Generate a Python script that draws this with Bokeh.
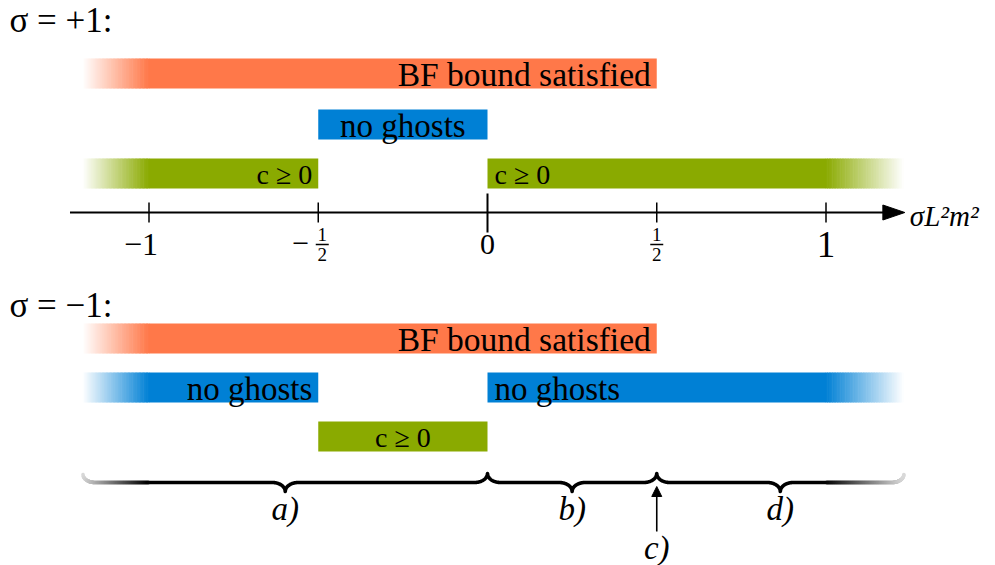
import numpy as np
from bokeh.plotting import figure
from bokeh.models import Range1d, Arrow, NormalHead
from bokeh.core.properties import value
from bokeh.embed import file_html
from bokeh.resources import INLINE

# ---------------- data ----------------
# sigma = +1 : condition bands (None = continues past the drawn range)
plus_labels = ["BF bound satisfied", "no ghosts", "c ≥ 0", "c ≥ 0"]
plus_start = [None, -0.5, None, 0.0]
plus_end = [0.5, 0.0, -0.5, None]
plus_row = [0, 1, 2, 2]

# sigma = -1 : condition bands
minus_labels = ["BF bound satisfied", "no ghosts", "no ghosts", "c ≥ 0"]
minus_start = [None, None, 0.0, -0.5]
minus_end = [0.5, -0.5, None, 0.0]
minus_row = [0, 1, 1, 2]

panel_titles = ["σ = +1:", "σ = −1:"]

tick_values = [-1.0, -0.5, 0.0, 0.5, 1.0]
tick_labels = ["−1", "−1/2", "0", "1/2", "1"]
axis_label = "σL²m²"

# parameter regions marked by the brace
region_labels = ["a)", "b)", "c)", "d)"]
region_start = [None, 0.0, 0.5, 0.5]
region_end = [0.0, 0.5, 0.5, None]

# ---------------- layout / style ----------------
W, H = 995, 565
PX_PER_UNIT = 338.5
ORIGIN_PX = 487
X_LO, X_HI = -1.195, 1.23          # visible extent of open-ended bands
FADE_LO, FADE_HI = -1.0, 1.0        # where the fades reach full colour
ROW_COLORS = ["#FF7849", "#0080D5", "#8AAA00"]
ROW_FONT = ["33.5px", "33px", "28px"]
PLUS_ROW_Y = [73, 124, 173]
MINUS_ROW_Y = [338, 387, 436]
BAR_H = 30
AXIS_Y = 212
BRACE_Y = 482
FONT = value("Liberation Serif")


def px(n):
    """pixel length -> data length along x"""
    return n / PX_PER_UNIT


def mix(hex_color, t):
    """blend a colour with white; t=1 gives the colour itself"""
    h = hex_color.lstrip("#")
    rgb = [int(h[i:i + 2], 16) for i in (0, 2, 4)]
    out = [round(c * t + 255 * (1 - t)) for c in rgb]
    return "#%02x%02x%02x" % tuple(out)


p = figure(width=W, height=H,
           x_range=Range1d(-ORIGIN_PX / PX_PER_UNIT, (W - ORIGIN_PX) / PX_PER_UNIT),
           y_range=Range1d(H, 0),
           output_backend="svg", toolbar_location=None,
           x_axis_type=None, y_axis_type=None, min_border=0)
p.outline_line_color = None
p.background_fill_color = "white"
p.border_fill_color = "white"


def fade_slices(a, b, color, rising, n=48):
    lefts, rights, cols = [], [], []
    edges = np.linspace(a, b, n + 1)
    for i in range(n):
        t = (i + 0.5) / n
        t = t if rising else 1 - t
        lefts.append(edges[i] - px(0.3))
        rights.append(edges[i + 1] + px(0.3))
        cols.append(mix(color, t))
    return lefts, rights, cols


def draw_panel(labels, starts, ends, rows, row_y):
    for lab, s, e, r in zip(labels, starts, ends, rows):
        y = row_y[r]
        col = ROW_COLORS[r]
        solid_lo = FADE_LO if s is None else s
        solid_hi = FADE_HI if e is None else e
        L, R, C = [solid_lo], [solid_hi], [col]
        if s is None:
            l2, r2, c2 = fade_slices(X_LO, FADE_LO, col, True)
            L += l2; R += r2; C += c2
        if e is None:
            l2, r2, c2 = fade_slices(FADE_HI, X_HI, col, False)
            L += l2; R += r2; C += c2
        p.quad(left=L, right=R, top=[y - BAR_H / 2] * len(L),
               bottom=[y + BAR_H / 2] * len(L), fill_color=C, line_color=None)
        # label placement follows which side of the band is open
        if s is None and e is not None:
            x, align, off = e, "right", -6
        elif e is None and s is not None:
            x, align, off = s, "left", 7
        else:
            x, align, off = (s + e) / 2, "center", 0
        p.text(x=[x], y=[y + 1], text=[lab], text_align=align, text_baseline="middle",
               x_offset=off, text_font=FONT, text_font_size=ROW_FONT[r], text_color="black")


draw_panel(plus_labels, plus_start, plus_end, plus_row, PLUS_ROW_Y)
draw_panel(minus_labels, minus_start, minus_end, minus_row, MINUS_ROW_Y)

# panel headings
for title, yy in zip(panel_titles, [20, 305]):
    p.text(x=[-ORIGIN_PX / PX_PER_UNIT], y=[yy], text=[title], x_offset=9,
           text_align="left", text_baseline="middle", text_font=FONT,
           text_font_size="35px", text_color="black")

# ---------------- number line ----------------
ax_lo = X_LO - px(13)
ax_tip = X_HI - px(-1)
head_len = px(22)
p.segment(x0=[ax_lo], y0=[AXIS_Y], x1=[ax_tip - head_len + px(2)], y1=[AXIS_Y],
          line_color="black", line_width=2.2)
p.patch(x=[ax_tip, ax_tip - head_len, ax_tip - head_len],
        y=[AXIS_Y, AXIS_Y - 7.5, AXIS_Y + 7.5], fill_color="black", line_color="black")
p.text(x=[ax_tip], y=[AXIS_Y + 3], text=[axis_label], x_offset=5, text_align="left",
       text_baseline="middle", text_font=FONT, text_font_style="italic",
       text_font_size="29px", text_color="black")

for v, lab in zip(tick_values, tick_labels):
    if v == 0:
        p.segment(x0=[v], y0=[193], x1=[v], y1=[232], line_color="black", line_width=2)
    else:
        p.segment(x0=[v], y0=[202], x1=[v], y1=[222], line_color="black", line_width=1.5)
    neg = lab.startswith("−")
    body = lab[1:] if neg else lab
    if "/" in body:
        num, den = body.split("/")
        cx = v + (px(4) if neg else 0)
        p.text(x=[cx, cx], y=[234, 254], text=[num, den], text_align="center",
               text_baseline="middle", text_font=FONT, text_font_size="19px",
               text_color="black")
        p.segment(x0=[cx - px(6.5)], y0=[244], x1=[cx + px(6.5)], y1=[244],
                  line_color="black", line_width=1.5)
        if neg:
            p.text(x=[v], y=[243], text=["−"], text_align="right", text_baseline="middle",
                   x_offset=-9, text_font=FONT, text_font_size="30px", text_color="black")
    else:
        size = "37px" if (v > 0) else ("30px" if v == 0 else "32px")
        if neg:
            p.text(x=[v], y=[244], text=[lab], text_align="right", text_baseline="middle",
                   x_offset=9, text_font=FONT, text_font_size=size, text_color="black")
        else:
            p.text(x=[v], y=[244], text=[lab], text_align="center", text_baseline="middle",
                   text_font=FONT, text_font_size=size, text_color="black")

# ---------------- brace of regions ----------------
intervals, points, label_pos = [], [], []
for lab, s, e in zip(region_labels, region_start, region_end):
    lo = X_LO if s is None else s
    hi = X_HI if e is None else e
    if lo == hi:
        points.append(lo)
        label_pos.append((lab, lo, 547))
    else:
        intervals.append((lo, hi))
        label_pos.append((lab, (lo + hi) / 2, 508))
down_cusps = [(a + b) / 2 for a, b in intervals]
up_cusps = sorted({b for a, b in intervals if X_LO < b < X_HI})

CUSP_W, CUSP_H = px(13), 9.0
END_W, END_H = px(12), 8.0


def quarter(t):
    return 1 - np.sqrt(np.clip(1 - t * t, 0, 1))


xs = np.arange(X_LO, X_HI, px(0.4))
xs = np.unique(np.concatenate([xs, [X_HI], down_cusps, up_cusps]))
ys = np.full_like(xs, float(BRACE_Y))
for c in down_cusps:
    m = np.abs(xs - c) < CUSP_W
    ys[m] += CUSP_H * quarter(1 - np.abs(xs[m] - c) / CUSP_W)
for c in up_cusps:
    m = np.abs(xs - c) < CUSP_W
    ys[m] -= CUSP_H * quarter(1 - np.abs(xs[m] - c) / CUSP_W)
m = xs - X_LO < END_W
ys[m] -= END_H * quarter(1 - (xs[m] - X_LO) / END_W)
m = X_HI - xs < END_W
ys[m] -= END_H * quarter(1 - (X_HI - xs[m]) / END_W)

solid = (xs >= FADE_LO) & (xs <= FADE_HI)
p.line(x=xs[solid], y=ys[solid], line_color="black", line_width=3.6,
       line_join="round", line_cap="round")
seg_x0, seg_y0, seg_x1, seg_y1, seg_c = [], [], [], [], []
for i in range(len(xs) - 1):
    xm = 0.5 * (xs[i] + xs[i + 1])
    if FADE_LO <= xm <= FADE_HI:
        continue
    if xm < FADE_LO:
        t = (xm - X_LO) / (FADE_LO - X_LO)
    else:
        t = (X_HI - xm) / (X_HI - FADE_HI)
    t = 0.15 + 0.85 * t
    seg_x0.append(xs[i]); seg_y0.append(ys[i]); seg_x1.append(xs[i + 1]); seg_y1.append(ys[i + 1])
    seg_c.append(mix("#000000", t))
p.segment(x0=seg_x0, y0=seg_y0, x1=seg_x1, y1=seg_y1, line_color=seg_c,
          line_width=3.6, line_cap="round")

for pt in points:
    p.add_layout(Arrow(end=NormalHead(size=10, fill_color="black", line_color="black"),
                       x_start=pt, y_start=531, x_end=pt, y_end=486,
                       line_color="black", line_width=1.6))

for lab, x, y in label_pos:
    p.text(x=[x], y=[y], text=[lab], text_align="center", text_baseline="middle",
           text_font=FONT, text_font_style="italic", text_font_size="33px",
           text_color="black")

open("out.html", "w").write(file_html(p, INLINE))
